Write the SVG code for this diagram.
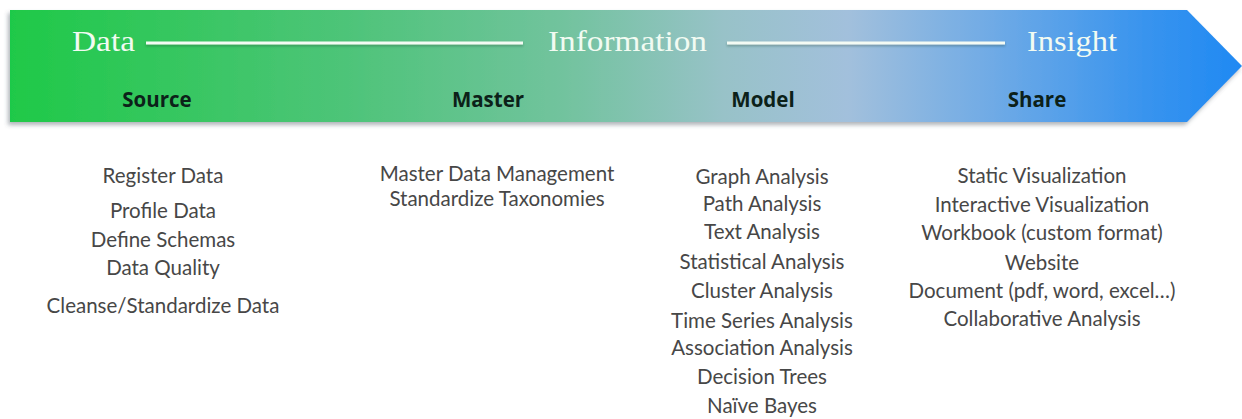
<svg xmlns="http://www.w3.org/2000/svg" width="1242" height="419" viewBox="0 0 1242 419">
  <defs>
    <linearGradient id="bandFill" x1="0" y1="0" x2="1" y2="0">
      <stop offset="0" stop-color="#1fc948"/>
      <stop offset="0.28" stop-color="#4fc47a"/>
      <stop offset="0.45" stop-color="#72c39e"/>
      <stop offset="0.58" stop-color="#98c2c8"/>
      <stop offset="0.68" stop-color="#a2c0dc"/>
      <stop offset="0.8" stop-color="#6eaae6"/>
      <stop offset="0.92" stop-color="#3994ee"/>
      <stop offset="1" stop-color="#1f89f3"/>
    </linearGradient>
    <filter id="bandShadow" x="-5%" y="-20%" width="110%" height="150%">
      <feDropShadow dx="-2" dy="3" stdDeviation="2" flood-color="#505a66" flood-opacity="0.45"/>
    </filter>
    <filter id="lineShadow" filterUnits="userSpaceOnUse" x="0" y="30" width="1242" height="30">
      <feDropShadow dx="0" dy="1.5" stdDeviation="1" flood-color="#1c3a2a" flood-opacity="0.35"/>
    </filter>
  </defs>
  <style>
    .stage { font-family: "Liberation Serif", "Times New Roman", serif; font-size: 30px; fill: #f2fbf2; }
    .rule { stroke: #f4fbf4; stroke-width: 3; fill: none; }
    .step { font-family: "Open Sans", "Liberation Sans", sans-serif; font-weight: 700; font-size: 20.5px; fill: #0c2119; text-anchor: middle; }
    .item { font-family: Lato, "Open Sans", sans-serif; font-size: 20.5px; fill: #474747; text-anchor: middle; }
  </style>

  <rect width="1242" height="419" fill="#ffffff"/>

  <!-- Banner arrow -->
  <g id="banner">
    <polygon points="10,10 1187,10 1242,66 1187,122 10,122" fill="url(#bandFill)" filter="url(#bandShadow)"/>
  </g>

  <!-- Connector rules between stage words -->
  <g id="connectors" filter="url(#lineShadow)">
    <line class="rule" x1="146" y1="43" x2="523" y2="43"/>
    <line class="rule" x1="727" y1="43" x2="1005" y2="43"/>
  </g>

  <g id="stage-data">
    <text class="stage" x="72" y="51" textLength="63" lengthAdjust="spacingAndGlyphs">Data</text>
  </g>
  <g id="stage-information">
    <text class="stage" x="548" y="51" textLength="159" lengthAdjust="spacingAndGlyphs">Information</text>
  </g>
  <g id="stage-insight">
    <text class="stage" x="1027" y="51" textLength="90" lengthAdjust="spacingAndGlyphs">Insight</text>
  </g>

  <!-- Source column -->
  <g id="source">
    <text class="step" x="157" y="107">Source</text>
    <text class="item" x="163" y="183">Register Data</text>
    <text class="item" x="163" y="218">Profile Data</text>
    <text class="item" x="163" y="247">Define Schemas</text>
    <text class="item" x="163" y="275">Data Quality</text>
    <text class="item" x="163" y="313">Cleanse/Standardize Data</text>
  </g>

  <!-- Master column -->
  <g id="master">
    <text class="step" x="488" y="107">Master</text>
    <text class="item" x="497" y="181">Master Data Management</text>
    <text class="item" x="497" y="206">Standardize Taxonomies</text>
  </g>

  <!-- Model column -->
  <g id="model">
    <text class="step" x="763" y="107">Model</text>
    <text class="item" x="762" y="184">Graph Analysis</text>
    <text class="item" x="762" y="211">Path Analysis</text>
    <text class="item" x="762" y="239">Text Analysis</text>
    <text class="item" x="762" y="269">Statistical Analysis</text>
    <text class="item" x="762" y="298">Cluster Analysis</text>
    <text class="item" x="762" y="328">Time Series Analysis</text>
    <text class="item" x="762" y="355">Association Analysis</text>
    <text class="item" x="762" y="384">Decision Trees</text>
    <text class="item" x="762" y="413">Naïve Bayes</text>
  </g>

  <!-- Share column -->
  <g id="share">
    <text class="step" x="1037" y="107">Share</text>
    <text class="item" x="1042" y="183">Static Visualization</text>
    <text class="item" x="1042" y="212">Interactive Visualization</text>
    <text class="item" x="1042" y="240">Workbook (custom format)</text>
    <text class="item" x="1042" y="270">Website</text>
    <text class="item" x="1042" y="298">Document (pdf, word, excel…)</text>
    <text class="item" x="1042" y="326">Collaborative Analysis</text>
  </g>
</svg>
